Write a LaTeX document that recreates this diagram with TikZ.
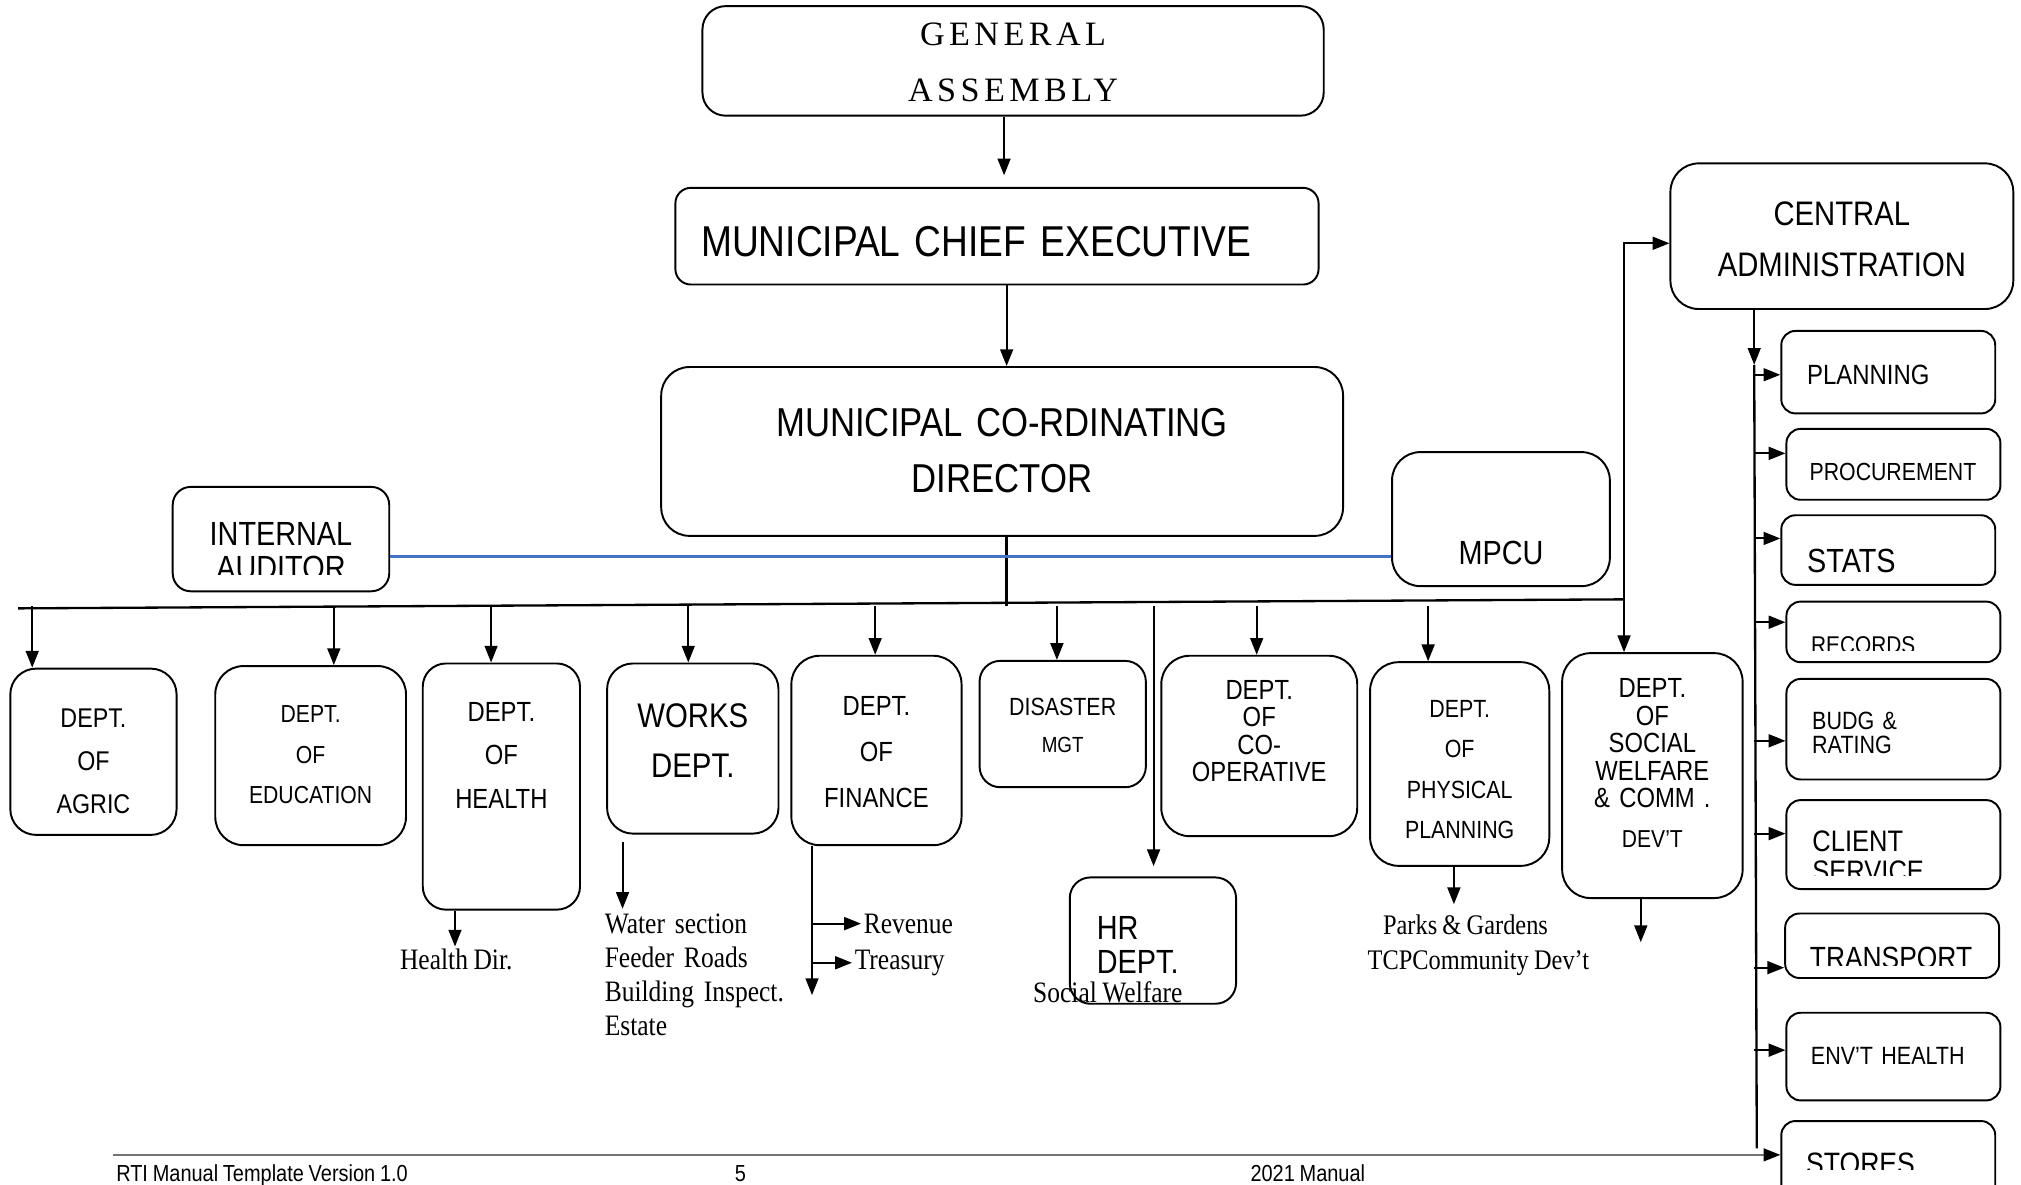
\documentclass[tikz,border=0pt]{standalone}
\usepackage{fontspec}
\setmainfont{Liberation Serif}[FakeStretch=0.86,WordSpace=0.86]
\setsansfont{Liberation Sans}[FakeStretch=0.86,WordSpace=0.86]
\newfontfamily\gafont{Liberation Serif}[LetterSpace=13]
\renewcommand{\familydefault}{\sfdefault}
\newcommand{\txtsize}[2]{\fontsize{#1}{#2}\selectfont}
\usetikzlibrary{arrows.meta}
\definecolor{auditblue}{RGB}{68,114,196}
\tikzset{
  box/.style={draw, line width=1.5pt, rounded corners=20pt, inner sep=0pt,
    anchor=north, align=center},
  sbox/.style={box, rounded corners=11pt, align=left},
  lbl/.style={font=\rmfamily\txtsize{23}{26.3}, inner sep=0pt},
  arr/.style={line width=1.5pt, -{Triangle[length=13pt,width=10pt]}},
}
\begin{document}
\begin{tikzpicture}[x=1pt,y=-1pt]
  \useasboundingbox (0,0) rectangle (1568,919);
  \clip (0,0) rectangle (1568,919);
  \draw
    (786,4) node[box, rounded corners=18pt, text width=482pt, text height=30.8pt,
      text depth=54.2pt, font=\gafont\txtsize{26.5}{43}] (ga) {GENERAL\\ASSEMBLY}
    (773.5,145) node[box, rounded corners=12pt, align=left, text width=459pt,
      inner xsep=20pt, text height=53pt, text depth=22pt,
      font=\txtsize{33.5}{40}] (mce) {MUNICIPAL CHIEF EXECUTIVE}
    (777.5,284) node[box, rounded corners=22pt, text width=529pt, text height=54pt,
      text depth=77pt, font=\txtsize{31.3}{43}] (mcd) {MUNICIPAL CO-RDINATING\\DIRECTOR}
    (218,377) node[box, rounded corners=14pt, minimum width=168pt,
      minimum height=81pt] (ia) {}
    (1164.5,350) node[box, rounded corners=22pt, text width=169pt, text height=87pt,
      text depth=17pt, font=\txtsize{26}{30}] (mpcu) {MPCU}
    (1429,126) node[box, rounded corners=22pt, text width=266pt, text height=48.5pt,
      text depth=64.5pt, font=\txtsize{26.4}{39}] (ca) {CENTRAL\\ADMINISTRATION};
  \draw
    (72.5,518) node[box, text width=129pt, text height=45.5pt, text depth=83.5pt,
      font=\txtsize{21}{33.5}] (agric) {DEPT.\\OF\\AGRIC}
    (241,516) node[box, rounded corners=22pt, text width=148pt, text height=44pt,
      text depth=95pt, font=\txtsize{19.1}{31.5}] (edu) {DEPT.\\OF\\EDUCATION}
    (389,514) node[box, rounded corners=18pt, text width=122pt, text height=44.7pt,
      text depth=146.3pt, font=\txtsize{21.5}{34}] (health) {DEPT.\\OF\\HEALTH}
    (537.5,514) node[box, text width=133pt, text height=49.5pt, text depth=82.5pt,
      font=\txtsize{26.5}{39}] (works) {WORKS\\DEPT.}
    (680,508) node[box, rounded corners=22pt, text width=132pt, text height=46.7pt,
      text depth=100.3pt, font=\txtsize{21.5}{35.5}] (finance) {DEPT.\\OF\\FINANCE}
    (824.5,512) node[box, rounded corners=16pt, text width=129pt, text height=42pt,
      text depth=56pt, font=\txtsize{19.3}{29}] (disaster) {DISASTER\\{\txtsize{17}{29}MGT}}
    (894.5,680) node[box, rounded corners=16pt, align=left, text width=87pt,
      inner xsep=21pt, text height=48.3pt, text depth=49.7pt,
      font=\txtsize{26}{26}] (hr) {HR\\DEPT.}
    (977,508) node[box, rounded corners=22pt, text width=152pt, text height=33.7pt,
      text depth=106.3pt, font=\txtsize{21.5}{21.3}] (coop) {DEPT.\\OF\\CO-\\OPERATIVE}
    (1132.5,513) node[box, rounded corners=22pt, text width=139pt, text height=43pt,
      text depth=115pt, font=\txtsize{19.3}{31.3}] (phys) {DEPT.\\OF\\PHYSICAL\\PLANNING}
    (1282,506) node[box, rounded corners=22pt, text width=140pt, text height=34.7pt,
      text depth=155.3pt, font=\txtsize{21.5}{21.25}] (sw)
      {DEPT.\\OF\\SOCIAL\\WELFARE\\\& COMM .\\[9.85pt]{\txtsize{19}{21.25}DEV’T}\hspace*{45pt}};
  \draw
    (1465,256) node[sbox, text width=126pt, inner xsep=20pt, text height=41.7pt,
      text depth=22.3pt, font=\txtsize{21.6}{26}] (plan) {PLANNING}
    (1469,332) node[sbox, text width=130pt, inner xsep=18pt, text height=39.9pt,
      text depth=15.1pt, font=\txtsize{19.2}{24}] (proc) {PROCUREMENT}
    (1465,399) node[sbox, text width=126pt, inner xsep=20pt, text height=44.3pt,
      text depth=9.7pt, font=\txtsize{26}{30}] (stats) {STATS}
    (1469,466) node[sbox, minimum width=166pt, minimum height=47pt] (rec) {}
    (1469,526) node[sbox, text width=126pt, inner xsep=20pt, text height=39pt,
      text depth=39pt, font=\txtsize{19.4}{19}] (budg) {BUDG \&\\RATING}
    (1469,620) node[sbox, minimum width=166pt, minimum height=69pt] (client) {}
    (1468,708) node[sbox, minimum width=166pt, minimum height=50pt] (trans) {}
    (1469,785) node[sbox, text width=128pt, inner xsep=19pt, text height=40pt,
      text depth=28pt, font=\txtsize{19.4}{24}] (envt) {ENV’T HEALTH}
    (1465,869) node[sbox, minimum width=166pt, minimum height=62pt] (stores) {};
  \begin{scope}
    \clip (ia.north west) rectangle ([yshift=13.5pt]ia.south east);
    \node[anchor=base, text width=168pt, align=center, inner sep=0pt,
      font=\txtsize{26}{26}] (iatext) at (218,423.5) {INTERNAL\\AUDITOR};
  \end{scope}
  \begin{scope}
    \clip (rec.north west) rectangle ([yshift=10pt]rec.south east);
    \node[anchor=base west, inner sep=0pt, font=\txtsize{18.8}{22}] (rectext)
      at (1405,507) {RECORDS};
  \end{scope}
  \begin{scope}
    \clip (client.north west) rectangle ([yshift=11pt]client.south east);
    \node[anchor=base west, text width=130pt, align=left, inner sep=0pt,
      font=\txtsize{23}{23}] (clienttext) at (1406,661) {CLIENT\\SERVICE};
  \end{scope}
  \begin{scope}
    \clip (trans.north west) rectangle ([yshift=10.5pt]trans.south east);
    \node[anchor=base west, inner sep=0pt, font=\txtsize{23.8}{26}] (transtext)
      at (1404,751.5) {TRANSPORT};
  \end{scope}
  \begin{scope}
    \clip (stores.north west) rectangle ([yshift=25pt]stores.south east);
    \node[anchor=base west, inner sep=0pt, font=\txtsize{24}{26}] (storestext)
      at (1401,911) {STORES};
  \end{scope}
  \draw
    (354,752.5) node[lbl, anchor=base, inner sep=2pt] (healthdir) {Health Dir.}
    (469,724.5) node[lbl, anchor=base west, text width=170pt, align=left] (worksub)
      {Water section\\Feeder Roads\\Building Inspect.\\Estate}
    (668,724) node[lbl, anchor=base west, inner sep=2pt] (revenue) {Revenue}
    (661,752) node[lbl, anchor=base west, inner sep=2pt] (treasury) {Treasury}
    (859.5,778) node[lbl, anchor=base] (socwel) {Social Welfare}
    (1137,725) node[lbl, font=\rmfamily\txtsize{22}{26}, anchor=base, inner sep=2pt]
      (parks) {Parks \& Gardens}
    (1147,752) node[lbl, font=\rmfamily\txtsize{22}{26}, anchor=base] (tcp)
      {TCPCommunity Dev’t}
    (90,916.5) node[anchor=base west, inner sep=0pt, font=\txtsize{18}{20}] (footl)
      {RTI Manual Template Version 1.0}
    (574.5,916.5) node[anchor=base, inner sep=0pt, font=\txtsize{18}{20}] (footn) {5}
    (970,916.5) node[anchor=base west, inner sep=0pt, font=\txtsize{18}{20}] (footr)
      {2021 Manual};
  \coordinate (busL) at (14,472);
  \coordinate (busR) at (1260,465);
  \coordinate (bus) at (0,470);
  \coordinate (railtop) at (1361,283);
  \coordinate (railbot) at (1363,891);
  \coordinate (finend) at (630,772);
  \coordinate (swend) at (1273,731);
  \coordinate (foot) at (88,896);
  \begin{scope}[line width=1.8pt]
    \draw (busL) to (busR);
    \draw ([xshift=3.5pt]mcd.south) to ([xshift=3.5pt]mcd.south |- bus);
    \draw (railtop) to (railbot);
  \end{scope}
  \draw[auditblue, line width=1.7pt] ([yshift=-13.5pt]ia.east)
    to ([yshift=-13.5pt]ia.east -| mpcu.west);
  \draw[black!55, line width=1.3pt, -{Triangle[length=13pt,width=10pt,black]}]
    (foot) to (foot -| stores.west);
  \begin{scope}[arr]
    \draw[shorten >=9pt] ([xshift=-7pt]ga.south) to ([xshift=-7pt]ga.south |- mce.north);
    \draw ([xshift=7.5pt]mce.south) to ([xshift=7.5pt]mce.south |- mcd.north);
    \draw (busR) |- ([yshift=-5.5pt]ca.west);
    \draw ([xshift=-47.5pt]agric.north |- bus) to ([xshift=-47.5pt]agric.north);
    \draw ([xshift=18pt]edu.north |- bus) to ([xshift=18pt]edu.north);
    \draw ([xshift=-8pt]health.north |- bus) to ([xshift=-8pt]health.north);
    \draw ([xshift=-3.5pt]works.north |- bus) to ([xshift=-3.5pt]works.north);
    \draw ([xshift=-1pt]finance.north |- bus) to ([xshift=-1pt]finance.north);
    \draw ([xshift=-4.5pt]disaster.north |- bus) to ([xshift=-4.5pt]disaster.north);
    \draw[shorten >=8pt] ([xshift=0.5pt]hr.north |- bus) to ([xshift=0.5pt]hr.north);
    \draw ([xshift=-2pt]coop.north |- bus) to ([xshift=-2pt]coop.north);
    \draw ([xshift=-24.5pt]phys.north |- bus) to ([xshift=-24.5pt]phys.north);
    \draw (busR) to (busR |- sw.north);
    \draw ([xshift=-36pt]health.south) to ([xshift=-36pt]health.south |- healthdir.north);
    \draw[shorten <=6pt, shorten >=4pt] ([xshift=-54.5pt]works.south)
      to ([xshift=-54.5pt]works.south |- worksub.north);
    \draw ([xshift=-50pt]finance.south) to (finend);
    \draw (finend |- revenue.west) to (revenue.west);
    \draw (finend |- treasury.west) to (treasury.west);
    \draw[shorten >=6pt] ([xshift=-4.5pt]phys.south) to ([xshift=-4.5pt]phys.south |- parks.north);
    \draw ([xshift=-9pt]sw.south) to (swend);
    \draw ([xshift=-68pt]ca.south) to (railtop);
    \draw ([yshift=-2pt]plan.west -| railtop) to ([yshift=-2pt]plan.west);
    \draw ([yshift=8.5pt]proc.west -| railtop) to ([yshift=8.5pt]proc.west);
    \draw ([yshift=9pt]stats.west -| railtop) to ([yshift=9pt]stats.west);
    \draw ([yshift=7.5pt]rec.west -| railtop) to ([yshift=7.5pt]rec.west);
    \draw ([yshift=-9pt]budg.west -| railtop) to ([yshift=-9pt]budg.west);
    \draw ([yshift=8.5pt]client.west -| railtop) to ([yshift=8.5pt]client.west);
    \draw ([yshift=-17pt]trans.west -| railtop) to ([yshift=-17pt]trans.west);
    \draw ([yshift=5pt]envt.west -| railtop) to ([yshift=5pt]envt.west);
  \end{scope}
\end{tikzpicture}
\end{document}
